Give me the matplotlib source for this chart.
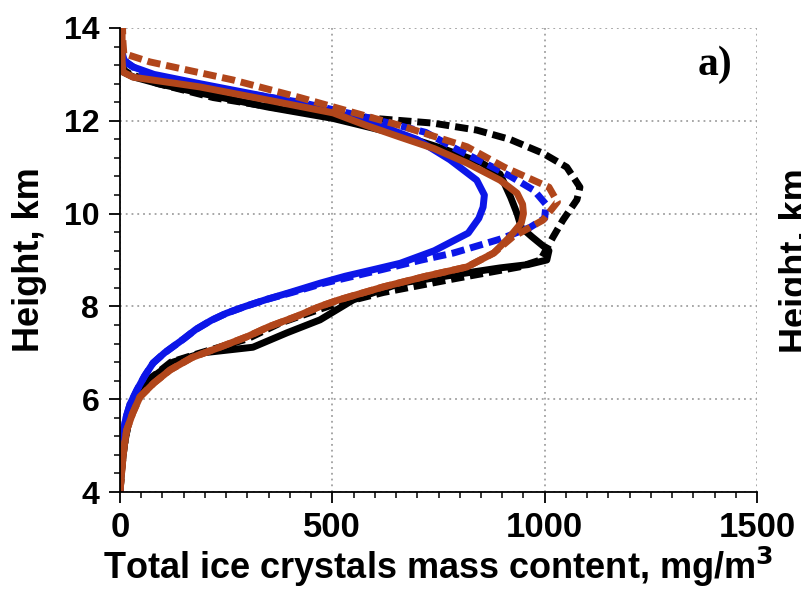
import matplotlib
matplotlib.use('Agg')
import matplotlib.pyplot as plt
from matplotlib.ticker import MultipleLocator

plt.rcParams['font.family'] = ['Liberation Sans', 'DejaVu Sans']

# profiles: mass content (mg/m^3) vs height (km), listed bottom to top
bk_s_y = [4.0, 4.5, 5.0, 5.5, 6.0, 6.4, 6.8, 7.0, 7.12, 7.43, 7.71, 8.14, 8.5, 8.72, 8.83,
          8.9, 9.0, 9.2, 9.5, 9.7, 10.0, 10.35, 10.85, 11.1, 11.4, 11.7, 12.05, 12.3, 12.6,
          12.8, 12.95, 13.05, 13.5, 14.0]
bk_s_x = [0, 4, 10, 20, 38, 65, 125, 196, 313, 393, 471, 549, 660, 815, 895,
          960, 1005, 1010, 970, 945, 935, 920, 895, 850, 760, 659, 502, 346, 188,
          90, 30, 8, 4, 3]

bk_d_y = [4.0, 4.5, 5.0, 5.5, 6.0, 6.4, 6.8, 7.0, 7.3, 7.64, 8.0, 8.3, 8.6, 8.85, 9.0, 9.5,
          9.86, 10.3, 10.57, 11.0, 11.3, 11.6, 11.8, 11.95, 12.05, 12.2, 12.5, 12.8, 13.0,
          13.1, 13.5, 14.0]
bk_d_x = [0, 4, 10, 20, 38, 65, 120, 190, 300, 377, 490, 620, 790, 940, 990, 1020,
          1043, 1076, 1083, 1052, 996, 918, 840, 737, 600, 420, 220, 90, 25,
          8, 4, 3]

bl_s_y = [4.0, 4.5, 5.0, 5.3, 5.6, 5.9, 6.2, 6.5, 6.78, 7.0, 7.3, 7.5, 7.7, 7.85, 8.0,
          8.15, 8.3, 8.5, 8.65, 8.8, 8.93, 9.2, 9.58, 9.9, 10.14, 10.4, 10.72, 11.16, 11.6,
          12.0, 12.38, 12.8, 13.0, 13.16, 13.3, 13.5, 14.0]
bl_s_x = [0, 2, 5, 8, 14, 24, 40, 58, 78, 105, 150, 178, 215, 250, 295,
          345, 400, 471, 530, 600, 660, 740, 820, 845, 855, 858, 840, 777, 699,
          581, 424, 188, 80, 31, 10, 4, 3]

bl_d_y = [4.0, 4.5, 5.0, 5.3, 5.6, 5.9, 6.2, 6.5, 6.78, 7.0, 7.3, 7.5, 7.7, 7.85, 8.0,
          8.15, 8.3, 8.5, 8.8, 9.0, 9.15, 9.45, 9.7, 9.9, 10.2, 10.5, 10.8, 11.0, 11.4,
          11.75, 12.1, 12.4, 12.75, 13.0, 13.25, 13.5, 14.0]
bl_d_x = [0, 2, 5, 8, 14, 24, 40, 58, 78, 105, 150, 178, 215, 250, 295,
          345, 405, 480, 620, 710, 785, 895, 965, 1000, 1003, 975, 920, 878, 790,
          720, 570, 424, 188, 60, 15, 4, 3]

br_s_y = [4.0, 4.55, 5.0, 5.34, 5.7, 6.05, 6.35, 6.63, 6.9, 7.12, 7.35, 7.56, 7.8, 8.0,
          8.14, 8.42, 8.65, 8.85, 9.15, 9.5, 9.8, 10.0, 10.2, 10.44, 10.72, 11.09, 11.4,
          11.65, 11.9, 12.17, 12.45, 12.73, 12.94, 13.05, 13.3, 14.0]
br_s_x = [0, 5, 10, 16, 30, 47, 80, 118, 170, 235, 300, 350, 420, 471,
          515, 620, 720, 817, 880, 918, 945, 950, 948, 935, 895, 817, 740,
          659, 580, 502, 346, 188, 31, 7, 5, 5]

br_d_y = [4.0, 4.55, 5.0, 5.34, 5.7, 6.05, 6.35, 6.63, 6.9, 7.12, 7.35, 7.56, 7.8, 8.0,
          8.14, 8.42, 8.65, 8.85, 9.15, 9.5, 9.7, 9.86, 10.25, 10.57, 11.0, 11.44, 11.9,
          12.3, 12.5, 12.88, 13.27, 13.45, 13.7, 14.0]
br_d_x = [0, 5, 10, 16, 30, 47, 80, 118, 170, 235, 300, 350, 420, 471,
          515, 620, 720, 817, 880, 925, 965, 996, 1030, 1010, 905, 817, 659,
          502, 424, 266, 70, 9, 7, 6]

BLUE = '#0c16e8'
BROWN = '#b1461b'
LW = 5
DASH = (1.9, 0.85)

fig = plt.figure(figsize=(8.01, 5.93), dpi=100)
ax = fig.add_axes([0.1498, 0.1703, 0.7953, 0.7825])

ax.plot(bk_s_x, bk_s_y, color='black', lw=LW, solid_joinstyle='round')
ax.plot(bk_d_x, bk_d_y, color='black', lw=LW, dashes=DASH)
ax.plot(bl_s_x, bl_s_y, color=BLUE, lw=LW, solid_joinstyle='round')
ax.plot(bl_d_x, bl_d_y, color=BLUE, lw=LW, dashes=DASH)
ax.plot(br_s_x, br_s_y, color=BROWN, lw=LW, solid_joinstyle='round')
ax.plot(br_d_x, br_d_y, color=BROWN, lw=LW, dashes=DASH)

ax.set_xlim(0, 1500)
ax.set_ylim(4, 14)
ax.xaxis.set_major_locator(MultipleLocator(500))
ax.xaxis.set_minor_locator(MultipleLocator(50))
ax.yaxis.set_major_locator(MultipleLocator(2))
ax.yaxis.set_minor_locator(MultipleLocator(0.4))

ax.grid(True, which='major', color='#a0a0a0', linestyle=(0, (1, 2.2)), linewidth=1.3)
ax.set_axisbelow(True)
for side in ['top', 'right']:
    ax.spines[side].set_visible(False)
for side in ['left', 'bottom']:
    ax.spines[side].set_linewidth(1.3)

ax.tick_params(which='major', direction='out', length=8, width=1.3)
ax.tick_params(which='minor', direction='out', length=4.5, width=1.1)
ax.tick_params(axis='x', labelsize=25, pad=6)
ax.tick_params(axis='y', labelsize=23, pad=7)
for lab in ax.get_xticklabels() + ax.get_yticklabels():
    lab.set_fontweight('bold')

ax.set_xlabel('Total ice crystals mass content, mg/m$^{\\mathbf{3}}$', fontsize=26,
              fontweight='bold', labelpad=0)
ax.set_ylabel('Height, km', fontsize=26, fontweight='bold', labelpad=12)

ax.text(0.962, 0.899, 'a)', transform=ax.transAxes, ha='right', va='baseline',
        fontsize=30, fontweight='bold', family='Liberation Serif')

# label of the neighbouring panel, cut by the right edge
fig.text(0.994, 0.56, 'Height, km', rotation=90, ha='center', va='center',
         fontsize=26, fontweight='bold')

fig.savefig('out.png', dpi=100)
